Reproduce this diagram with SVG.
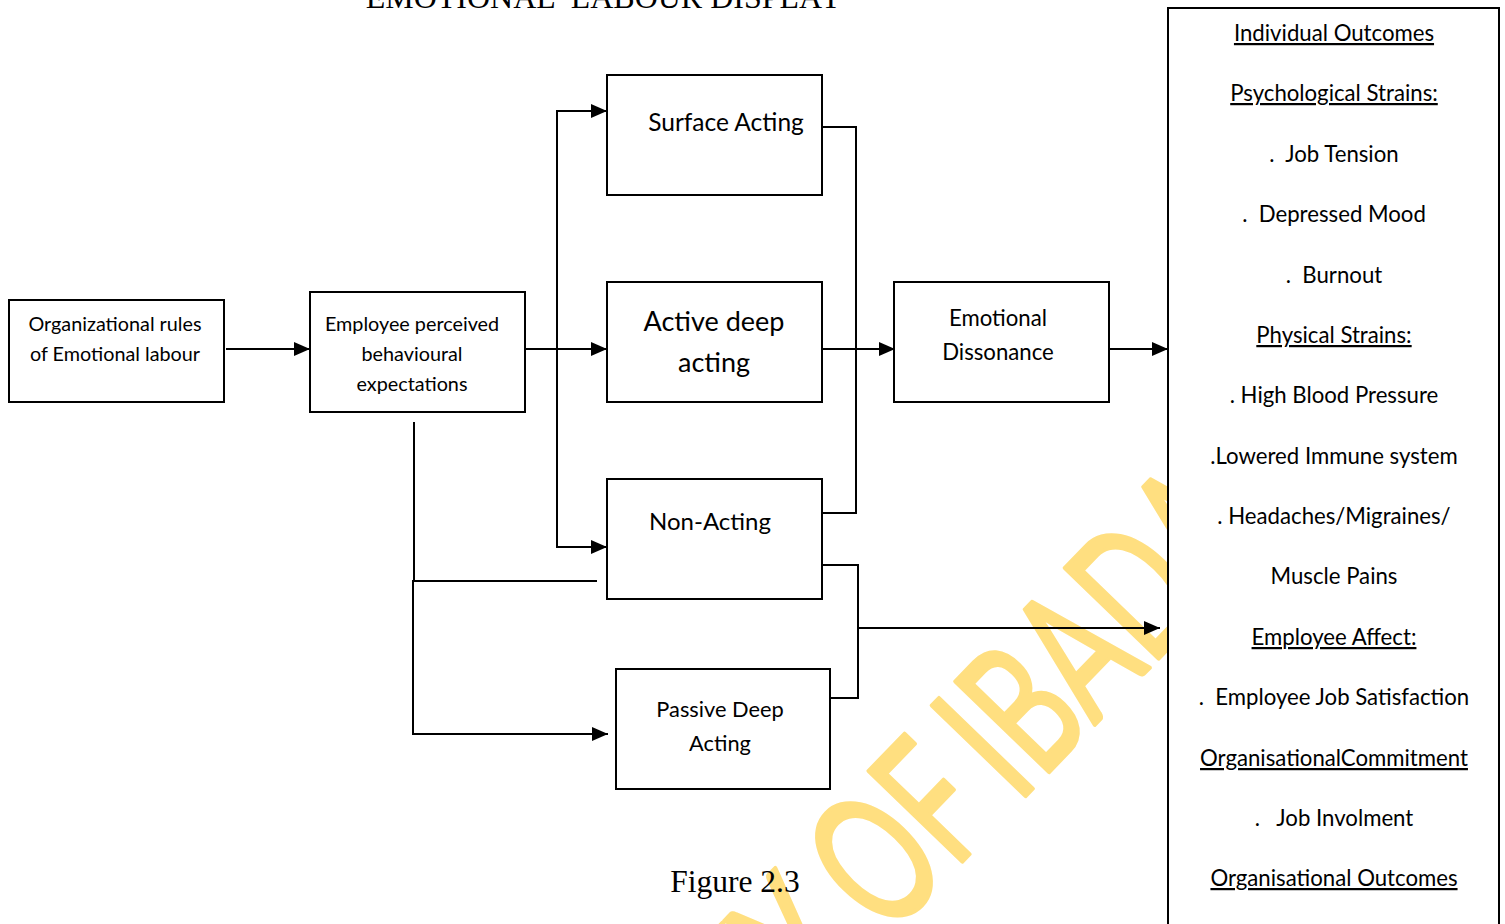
<svg xmlns="http://www.w3.org/2000/svg" width="1505" height="924" viewBox="0 0 1505 924">
  <style>
    .box { fill: #ffffff; stroke: #000000; stroke-width: 2; }
    .link { fill: none; stroke: #000000; stroke-width: 2; }
    .lbl { font-family: Lato, "Open Sans", sans-serif; fill: #000000; text-anchor: middle; white-space: pre; }
    .serif { font-family: "Liberation Serif", "Times New Roman", serif; fill: #000000; white-space: pre; }
    .u { text-decoration: underline; }
    .wm { font-family: Lato, "Open Sans", sans-serif; font-size: 182px; fill: #FFDF80; stroke: #FFDF80; stroke-width: 4; stroke-linejoin: round; }
  </style>
  <defs>
    <marker id="arrow" markerUnits="userSpaceOnUse" markerWidth="16" markerHeight="14" refX="16" refY="7" orient="auto">
      <path d="M0,0 L16,7 L0,14 Z" fill="#000000"/>
    </marker>
  </defs>

  <rect width="1505" height="924" fill="#ffffff"/>

  <!-- watermark -->
  <g id="watermark" transform="translate(928.2,897.2) rotate(-46) scale(0.66,1)">
    <text class="wm"><tspan x="160" text-anchor="end">UNIVERSITY OF</tspan><tspan x="195" text-anchor="start">IBADAN</tspan></text>
  </g>

  <!-- title and caption -->
  <text class="serif" x="604" y="8" font-size="32" text-anchor="middle" xml:space="preserve">EMOTIONAL  LABOUR DISPLAY</text>
  <text class="serif" x="735" y="892" font-size="31.5" text-anchor="middle">Figure 2.3</text>

  <!-- connectors -->
  <g id="connectors">
    <path class="link" d="M226,349 H310" marker-end="url(#arrow)"/>
    <path class="link" d="M525,349 H607" marker-end="url(#arrow)"/>
    <path class="link" d="M557,547 V111"/>
    <path class="link" d="M556,111 H607" marker-end="url(#arrow)"/>
    <path class="link" d="M556,547 H607" marker-end="url(#arrow)"/>
    <path class="link" d="M822,127 H856 V513 H822"/>
    <path class="link" d="M822,349 H895" marker-end="url(#arrow)"/>
    <path class="link" d="M1110,349 H1168" marker-end="url(#arrow)"/>
    <path class="link" d="M414,422 V582"/>
    <path class="link" d="M413,581 V735"/>
    <path class="link" d="M412,581 H597"/>
    <path class="link" d="M412,734 H608" marker-end="url(#arrow)"/>
    <path class="link" d="M822,565 H858 V698 H831"/>
    <path class="link" d="M858,628 H1160" marker-end="url(#arrow)"/>
  </g>

  <g id="org-rules">
    <rect class="box" x="9" y="300" width="215" height="102"/>
    <text class="lbl" x="115" y="331" font-size="19.8">Organizational rules</text>
    <text class="lbl" x="115" y="361" font-size="19.8">of Emotional labour</text>
  </g>

  <g id="perceived-expectations">
    <rect class="box" x="310" y="292" width="215" height="120"/>
    <text class="lbl" x="412" y="331" font-size="19.8">Employee perceived</text>
    <text class="lbl" x="412" y="361" font-size="19.8">behavioural</text>
    <text class="lbl" x="412" y="391" font-size="19.8">expectations</text>
  </g>

  <g id="surface-acting">
    <rect class="box" x="607" y="75" width="215" height="120"/>
    <text class="lbl" x="726" y="131" font-size="24.5">Surface Acting</text>
  </g>

  <g id="active-deep-acting">
    <rect class="box" x="607" y="282" width="215" height="120"/>
    <text class="lbl" x="714" y="331" font-size="27">Active deep</text>
    <text class="lbl" x="714" y="372" font-size="27">acting</text>
  </g>

  <g id="non-acting">
    <rect class="box" x="607" y="479" width="215" height="120"/>
    <text class="lbl" x="710" y="530" font-size="24">Non-Acting</text>
  </g>

  <g id="passive-deep-acting">
    <rect class="box" x="616" y="669" width="214" height="120"/>
    <text class="lbl" x="720" y="717" font-size="21.8">Passive Deep</text>
    <text class="lbl" x="720" y="751" font-size="21.8">Acting</text>
  </g>

  <g id="emotional-dissonance">
    <rect class="box" x="894" y="282" width="215" height="120"/>
    <text class="lbl" x="998" y="326" font-size="22.2">Emotional</text>
    <text class="lbl" x="998" y="360" font-size="22.2">Dissonance</text>
  </g>

  <g id="outcomes">
    <rect class="box" x="1168" y="8" width="331" height="940"/>
    <g font-size="22.2">
      <text class="lbl u" x="1334" y="41">Individual Outcomes</text>
      <text class="lbl u" x="1334" y="101">Psychological Strains:</text>
      <text class="lbl" x="1334" y="162" xml:space="preserve">.  Job Tension</text>
      <text class="lbl" x="1334" y="222" xml:space="preserve">.  Depressed Mood</text>
      <text class="lbl" x="1334" y="283" xml:space="preserve">.  Burnout</text>
      <text class="lbl u" x="1334" y="343">Physical Strains:</text>
      <text class="lbl" x="1334" y="403">. High Blood Pressure</text>
      <text class="lbl" x="1334" y="464">.Lowered Immune system</text>
      <text class="lbl" x="1334" y="524">. Headaches/Migraines/</text>
      <text class="lbl" x="1334" y="584">Muscle Pains</text>
      <text class="lbl u" x="1334" y="645">Employee Affect:</text>
      <text class="lbl" x="1334" y="705" xml:space="preserve">.  Employee Job Satisfaction</text>
      <text class="lbl u" x="1334" y="766">OrganisationalCommitment</text>
      <text class="lbl" x="1334" y="826" xml:space="preserve">.   Job Involment</text>
      <text class="lbl u" x="1334" y="886">Organisational Outcomes</text>
    </g>
  </g>
</svg>
